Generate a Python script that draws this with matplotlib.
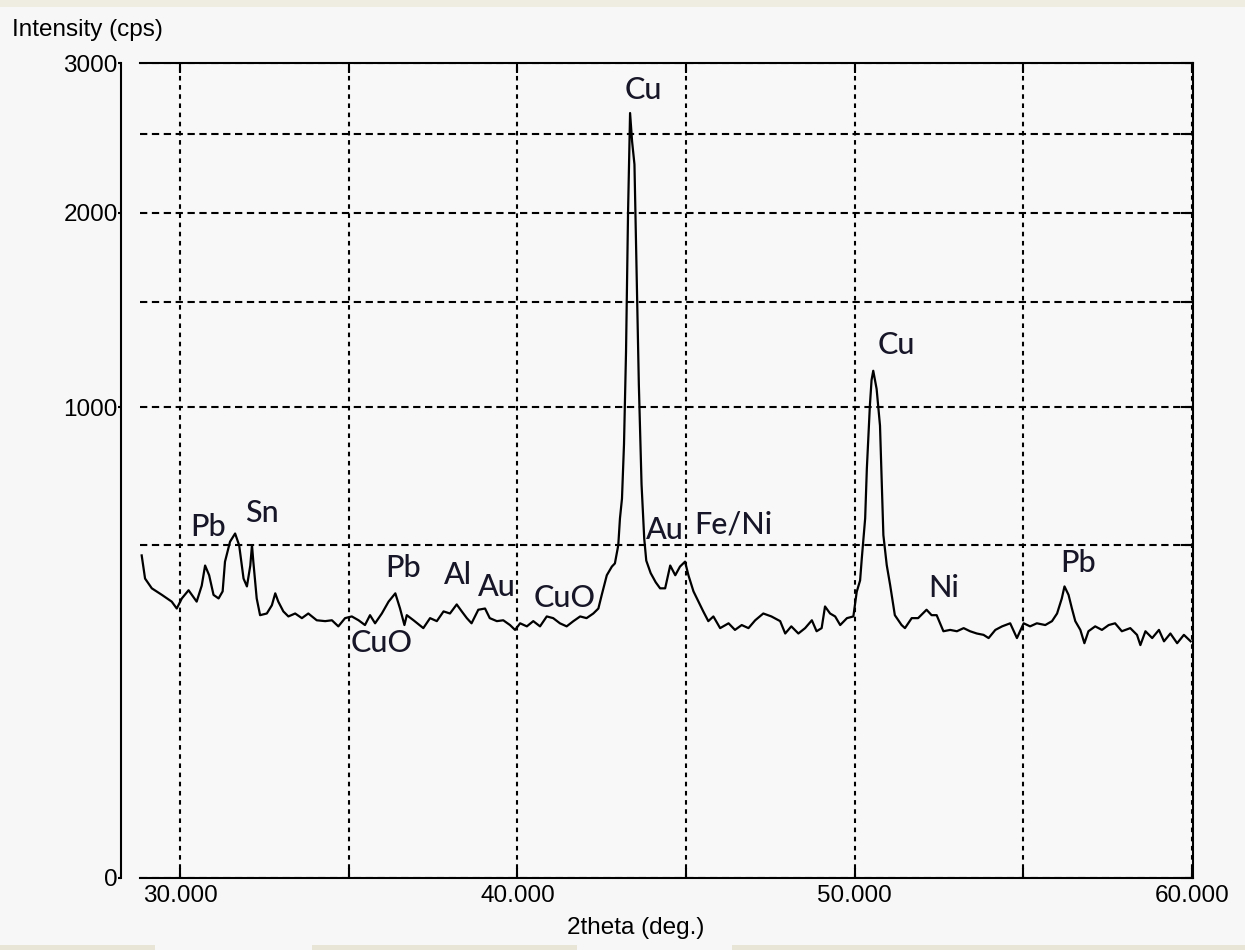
import numpy as np
import matplotlib
matplotlib.use('Agg')
import matplotlib.pyplot as plt
from matplotlib import font_manager
from matplotlib.patches import Rectangle
from matplotlib.ticker import MultipleLocator, FixedLocator, FuncFormatter

two_theta = [
    28.86, 28.96, 29.16, 29.46, 29.75, 29.90, 30.05, 30.25, 30.49, 30.64,
    30.74, 30.86, 30.99, 31.14, 31.26, 31.33, 31.48, 31.63, 31.75, 31.88,
    31.98, 32.08, 32.13, 32.17, 32.27, 32.37, 32.57, 32.72, 32.82, 32.91,
    33.06, 33.21, 33.41, 33.61, 33.80, 34.05, 34.30, 34.50, 34.69, 34.89,
    35.09, 35.29, 35.48, 35.63, 35.78, 35.98, 36.18, 36.38, 36.52, 36.65,
    36.72, 36.92, 37.21, 37.41, 37.61, 37.81, 38.00, 38.20, 38.35, 38.50,
    38.64, 38.84, 39.04, 39.18, 39.39, 39.58, 39.78, 39.93, 40.08, 40.28,
    40.47, 40.67, 40.87, 41.06, 41.26, 41.46, 41.66, 41.86, 42.05, 42.25,
    42.40, 42.50, 42.65, 42.80, 42.89, 42.99, 43.04, 43.10, 43.16, 43.22,
    43.28, 43.34, 43.40, 43.47, 43.53, 43.60, 43.68, 43.76, 43.82, 43.95,
    44.10, 44.23, 44.38, 44.53, 44.68, 44.82, 44.97, 45.07, 45.22, 45.37,
    45.51, 45.66, 45.81, 46.01, 46.26, 46.45, 46.65, 46.85, 47.05, 47.29,
    47.53, 47.79, 47.94, 48.12, 48.33, 48.53, 48.73, 48.87, 49.02, 49.12,
    49.27, 49.42, 49.57, 49.77, 49.96, 50.06, 50.16, 50.21, 50.31, 50.36,
    50.45, 50.50, 50.55, 50.60, 50.65, 50.75, 50.80, 50.85, 50.95, 51.05,
    51.19, 51.39, 51.49, 51.69, 51.88, 52.08, 52.13, 52.28, 52.43, 52.63,
    52.83, 53.03, 53.23, 53.42, 53.62, 53.82, 53.97, 54.17, 54.37, 54.61,
    54.81, 55.01, 55.20, 55.40, 55.65, 55.85, 56.00, 56.14, 56.22, 56.34,
    56.44, 56.54, 56.69, 56.81, 56.93, 57.13, 57.33, 57.53, 57.72, 57.92,
    58.17, 58.37, 58.47, 58.62, 58.82, 59.02, 59.17, 59.36, 59.56, 59.76,
    59.96,
]
intensity = [
    470, 405, 379, 362, 345, 328, 353, 374, 345, 386,
    441, 414, 362, 353, 371, 452, 511, 536, 500, 405,
    384, 441, 500, 452, 353, 312, 316, 336, 366, 345,
    321, 309, 316, 305, 316, 300, 298, 300, 286, 305,
    309, 300, 289, 312, 293, 316, 345, 366, 328, 289,
    312, 300, 282, 305, 298, 321, 316, 338, 321, 305,
    293, 325, 328, 305, 298, 300, 289, 278, 293, 286,
    298, 286, 309, 305, 293, 286, 298, 309, 305, 316,
    328, 362, 414, 438, 447, 500, 584, 650, 850, 1250,
    2000, 2643, 2450, 2300, 1700, 1100, 700, 520, 455, 420,
    395, 379, 379, 441, 414, 438, 452, 414, 371, 345,
    321, 298, 309, 282, 293, 278, 289, 282, 300, 316,
    309, 298, 270, 286, 270, 282, 300, 275, 282, 333,
    316, 309, 289, 305, 309, 370, 400, 461, 584, 757,
    1008, 1120, 1162, 1120, 1080, 924, 708, 531, 442, 388,
    312, 289, 282, 305, 305, 321, 325, 312, 312, 275,
    278, 275, 282, 275, 270, 267, 260, 278, 286, 293,
    260, 293, 286, 293, 289, 298, 316, 353, 384, 362,
    328, 298, 278, 249, 275, 286, 278, 289, 293, 275,
    282, 267, 245, 275, 260, 278, 253, 270, 249, 267,
    253,
]

# rótulos das fases
phase_labels = ['Cu', 'Cu', 'Pb', 'Sn', 'Pb', 'CuO', 'Al', 'Au', 'CuO', 'Au', 'Fe/Ni', 'Ni', 'Pb']
phase_x = [43.74, 51.25, 30.84, 32.42, 36.62, 35.98, 38.25, 39.39, 41.41, 44.38, 46.40, 52.63, 56.63]
phase_y = [2804, 1283, 557, 603, 433, 249, 415, 383, 353, 547, 563, 379, 447]

x_major = [30, 40, 50, 60]
y_major = [0, 1000, 2000, 3000]

names = {f.name for f in font_manager.fontManager.ttflist}
axis_font = 'Liberation Sans Narrow' if 'Liberation Sans Narrow' in names else 'Liberation Sans'
axis_size = 21 if axis_font == 'Liberation Sans Narrow' else 17.5
label_font = 'Lato' if 'Lato' in names else 'DejaVu Sans'

plt.rcParams['font.family'] = [axis_font, 'DejaVu Sans']

W, H = 1245, 950
fig = plt.figure(figsize=(W / 100, H / 100), dpi=100, facecolor='#f7f7f7')

# faixas da janela (topo / rodapé)
fig.add_artist(Rectangle((0, 1 - 7 / H), 1, 7 / H, transform=fig.transFigure,
                         facecolor='#efece1', edgecolor='none'))
for x0, x1 in [(0, 155), (312, 577), (732, 1245)]:
    fig.add_artist(Rectangle((x0 / W, 0), (x1 - x0) / W, 5 / H, transform=fig.transFigure,
                             facecolor='#e9e5d6', edgecolor='none'))

ax = fig.add_axes([140 / W, 1 - 878 / H, (1193 - 140) / W, (878 - 63) / H])
ax.set_facecolor('#f8f8f8')

ax.set_yscale('function', functions=(lambda v: np.sqrt(np.clip(v, 0, None)), lambda v: v ** 2))
ax.plot(two_theta, intensity, color='black', lw=1.6, zorder=5)

ax.set_xlim(28.81, 60.03)
ax.set_ylim(0, 3000)

ax.xaxis.set_major_locator(FixedLocator(x_major))
ax.xaxis.set_minor_locator(MultipleLocator(5))
ax.xaxis.set_major_formatter(FuncFormatter(lambda v, p: f'{v:.3f}'))
ax.yaxis.set_major_locator(FixedLocator(y_major))
ax.yaxis.set_minor_locator(MultipleLocator(500))
ax.yaxis.set_major_formatter(FuncFormatter(lambda v, p: f'{int(v)}'))

# grade tracejada: vertical com traços curtos, horizontal com traços mais longos
ax.xaxis.grid(True, which='both', color='black', linestyle=(0, (2.2, 2.2)), lw=1.5)
ax.yaxis.grid(True, which='both', color='black', linestyle=(0, (3.5, 2.2)), lw=1.5)

ax.spines['left'].set_position(('outward', 14))
for s in ax.spines.values():
    s.set_linewidth(1.5)

ax.tick_params(axis='x', which='both', direction='in', top=True, bottom=True,
               length=7, width=1.5, labelsize=axis_size, pad=5)
ax.tick_params(axis='y', which='both', direction='in', right=True, length=9, width=1.5)
ax.tick_params(axis='y', which='major', left=True, labelsize=axis_size, pad=2)
ax.tick_params(axis='y', which='minor', left=False)
for t in ax.yaxis.get_major_ticks():
    t.tick1line.set_markersize(2)
    t.tick1line.set_marker(0)

for lab, x, y in zip(phase_labels, phase_x, phase_y):
    ax.text(x, y, lab, ha='center', va='center', fontsize=22, family=label_font,
            weight='medium', color='#161628', zorder=6)

fig.text(12 / W, 1 - 30 / H, 'Intensity (cps)', ha='left', va='center', fontsize=axis_size)
fig.text(636 / W, 1 - 928 / H, '2theta (deg.)', ha='center', va='center', fontsize=axis_size)

fig.savefig('out.png', dpi=100, facecolor=fig.get_facecolor())
